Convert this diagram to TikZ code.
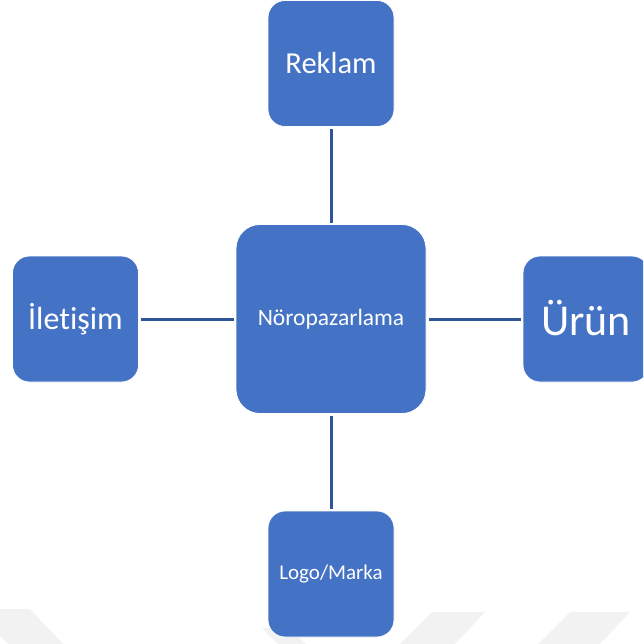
\documentclass[tikz,border=0pt]{standalone}
\usepackage{fontspec}
\setmainfont{Carlito}[Ligatures=NoCommon]
\definecolor{boxblue}{HTML}{4472C4}
\definecolor{linkblue}{HTML}{2F5597}
\definecolor{markgray}{HTML}{F2F2F2}
\begin{document}
\begin{tikzpicture}[x=1pt,y=-1pt,
  conceptbox/.style={fill=boxblue,draw=white,line width=0.8pt,rounded corners=17pt,
    text=white,inner sep=0pt,minimum width=126pt,minimum height=126pt},
  hubbox/.style={conceptbox,rounded corners=24pt,minimum width=190pt,minimum height=189pt},
  link/.style={draw=linkblue,line width=3pt,shorten >=1.5pt,shorten <=2.5pt}]
\useasboundingbox (0,0) rectangle (643,644);
\clip (0,0) rectangle (643,644);
% faint background chevrons along the bottom edge
\fill[markgray] (-25,609) -- (30,609) -- (63,644) -- (8,644) -- cycle;
\fill[markgray] (262,628) -- (290,628) -- (306,644) -- (278,644) -- cycle;
\fill[markgray] (432,612) -- (485,612) -- (455,644) -- (400,644) -- cycle;
\fill[markgray] (570,612) -- (630,612) -- (600,644) -- (538,644) -- cycle;
% concept boxes
\node[hubbox] (hub) at (331,319) {\fontsize{23.5}{28}\selectfont Nöropazarlama};
\node[conceptbox] (ad) at (331,63.5) {\fontsize{30.5}{36}\selectfont Reklam};
\node[conceptbox] (comm) at (75.5,319) {\fontsize{32}{38}\selectfont İletişim};
\node[conceptbox] (prod) at (586,319) {\fontsize{44}{52}\selectfont\raisebox{1.5pt}{Ürün}};
\node[conceptbox] (brand) at (331,574) {\fontsize{21}{25}\selectfont Logo/Marka};
% connectors from the hub
\draw[link] (ad) -- (hub);
\draw[link] (comm) -- (hub);
\draw[link] (hub) -- (prod);
\draw[link] (hub) -- (brand);
\end{tikzpicture}
\end{document}
